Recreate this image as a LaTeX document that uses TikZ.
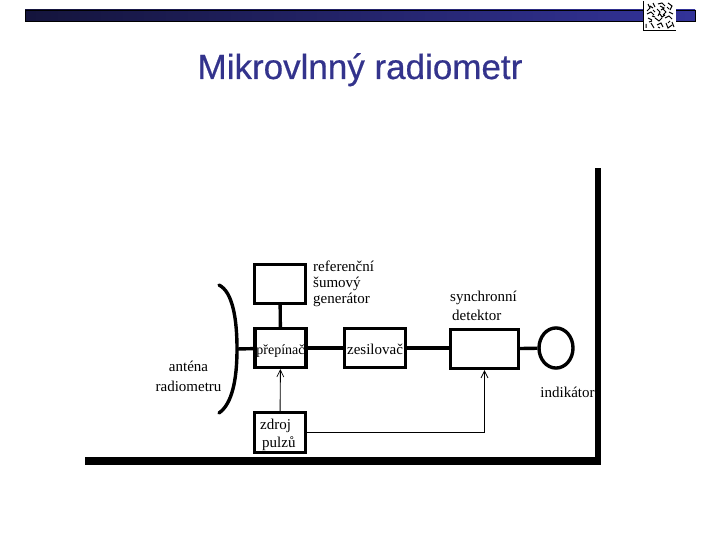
\documentclass[tikz,border=0pt]{standalone}
\usepackage{fontspec}
\setmainfont{Liberation Serif}
\newfontfamily\titlefont[FakeBold=0.5]{Liberation Sans}
\usetikzlibrary{arrows.meta}
\definecolor{titleblue}{RGB}{51,51,140}
\definecolor{barblue}{RGB}{51,51,153}
\definecolor{bardark}{RGB}{20,20,60}
\lineskiplimit=-30pt
\tikzset{
  x=1pt,y=-1pt,
  blockbox/.style={draw=black,line width=3.4pt,fill=white,inner sep=0pt,font=\fontsize{15}{16}\selectfont,align=center,text height=13pt,text depth=0pt},
  lbl/.style={inner sep=0pt,align=left},
  thick link/.style={line width=3.4pt},
  thin link/.style={line width=0.9pt,-{Straight Barb[length=7pt,width=7pt,line width=0.7pt]}},
  thin line/.style={line width=0.9pt}
}
\begin{document}
\begin{tikzpicture}
\useasboundingbox (0,0) rectangle (720,540);
\fill[white] (0,0) rectangle (720,540);
% banner
\shade[left color=bardark,right color=barblue,draw=black,line width=0.5pt] (25,10) rectangle (695,21);
% logo
\fill[white] (643,1) rectangle (676,30);
\draw[black,line width=0.5pt] (643,1) -- (643,30) -- (676,30);
\begin{scope}[black,line width=1pt]
\draw (648,4)--(650,8)--(647,11) (653,3)--(655,7) (658,4)--(662,3)--(665,6) (668,3)--(672,6)--(670,10)
      (647,14)--(651,12)--(654,15) (657,9)--(660,12)--(658,16) (663,9)--(666,12)--(663,15) (669,12)--(673,14)
      (648,18)--(652,20) (655,18)--(659,21)--(662,18) (665,18)--(669,16)--(672,19) (653,10)--(655,12)
      (646,24)--(646,28) (651,23)--(654,28) (657,25)--(661,23)--(663,27) (666,23)--(668,28)--(672,25) (672,22)--(674,27)
      (650,6)--(653,8) (660,6)--(664,8)--(661,10) (667,7)--(669,9) (652,16)--(655,17) (660,14)--(662,17)--(665,15)
      (670,21)--(668,23) (649,22)--(652,21) (658,27)--(660,28);
\end{scope}
% title
\node[inner sep=0pt,text=titleblue,font=\titlefont\fontsize{35}{38}\selectfont,anchor=base] (title) at (360,79) {Mikrovlnný radiometr};
% frame
\fill[black] (595,168) rectangle (601,465);
\fill[black] (85,457) rectangle (601,465);
% blocks
\node[blockbox,minimum width=51pt,minimum height=39pt] (ref) at (280,284) {};
\node[blockbox,minimum width=51pt,minimum height=39pt,font=\fontsize{14}{16}\selectfont] (sw) at (280.5,348) {přepínač};
\node[blockbox,minimum width=61pt,minimum height=39pt] (amp) at (375,348) {zesilovač};
\node[blockbox,minimum width=51pt,minimum height=40pt] (src) at (280,432.5) {};
\node[blockbox,minimum width=68pt,minimum height=39pt] (det) at (484.5,349) {};
\node[draw=black,line width=3.4pt,circle,inner sep=0pt,minimum size=34pt,yscale=1.18] (ind) at (556,348) {};
% labels
\node[lbl,anchor=north west,font=\fontsize{15}{16}\selectfont] (lref) at (313,261) {referenční\\šumový\\generátor};
\node[lbl,anchor=north,align=center,font=\fontsize{15}{20}\selectfont] (lant) at (188.5,361) {anténa\\radiometru};
\node[lbl,anchor=north west,font=\fontsize{15}{18}\selectfont] (lsrc) at (260,419) {zdroj\\\hspace*{2pt}pulzů};
\node[lbl,anchor=north west,font=\fontsize{15}{19}\selectfont] (ldet) at (450,291) {synchronní\\\hspace*{2pt}detektor};
\node[lbl,anchor=north,font=\fontsize{15}{16}\selectfont] (lind) at (567.5,387) {indikátor};
% antenna
\coordinate (antmid) at (237,349);
\draw[line width=3.4pt,line cap=round] (219,285) .. controls (233,292) and (237,320) .. (237,349) .. controls (237,380) and (232,404) .. (219,413);
% connectors
\draw[thick link] (ref) -- (sw);
\draw[thick link] (antmid) -- (sw);
\draw[thick link] (sw) -- (amp);
\draw[thick link] (amp) -- (det.west |- amp);
\draw[thick link] (det) -- (ind);
\draw[thin link] (src) -- (sw);
\coordinate (bend) at (484.5,432);
\draw[thin line] (src.east |- bend) -- (bend);
\draw[thin link] (bend) -- (det);
\end{tikzpicture}
\end{document}
